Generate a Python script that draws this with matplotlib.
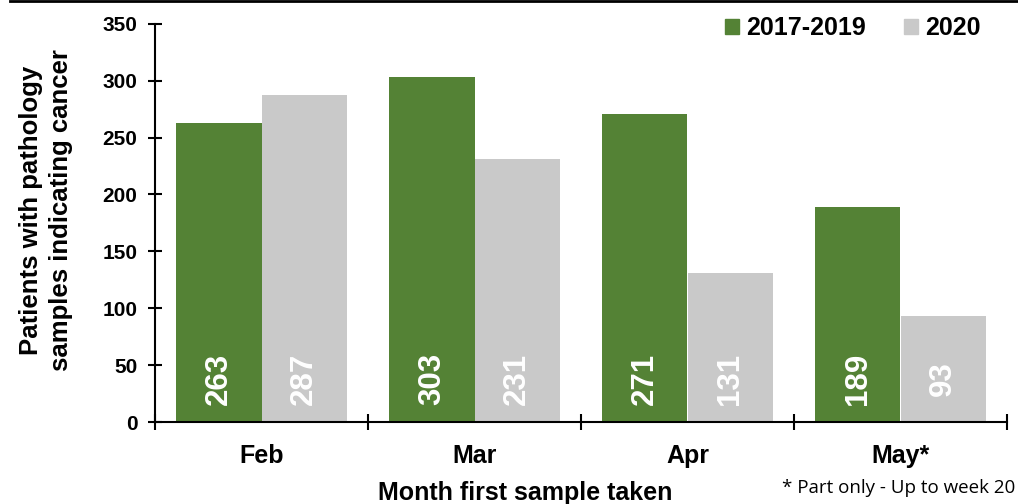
import matplotlib.pyplot as plt
from matplotlib.lines import Line2D
from matplotlib.patches import Patch

months = ['Feb', 'Mar', 'Apr', 'May*']
series_names = ['2017-2019', '2020']
values_1719 = [263, 303, 271, 189]
values_2020 = [287, 231, 131, 93]

green = '#548235'
grey = '#c9c9c9'

plt.rcParams['font.family'] = ['Liberation Sans', 'DejaVu Sans']

fig = plt.figure(figsize=(10.18, 5.04), dpi=100)
ax = fig.add_axes([155 / 1018, 1 - 422 / 504, (1007 - 155) / 1018, (422 - 23.7) / 504])

w = 0.4
xs = list(range(len(months)))
ax.bar([x - w / 2 for x in xs], values_1719, width=w, color=green, label=series_names[0])
ax.bar([x + w / 2 for x in xs], values_2020, width=w, color=grey, label=series_names[1])

for x, v in zip(xs, values_1719):
    ax.text(x - w / 2, 38, str(v), rotation=90, ha='center', va='center',
            color='white', fontsize=22.5, fontweight='bold')
for x, v in zip(xs, values_2020):
    ax.text(x + w / 2, 38, str(v), rotation=90, ha='center', va='center',
            color='white', fontsize=22.5, fontweight='bold')

ax.set_xlim(-0.5, len(months) - 0.5)
ax.set_ylim(0, 350)
ax.set_yticks(range(0, 351, 50))
ax.tick_params(axis='y', direction='inout', length=9.5, width=1.5, labelsize=15, pad=8)
for lab in ax.get_yticklabels():
    lab.set_fontweight('bold')

ax.set_xticks([x - 0.5 for x in range(len(months) + 1)])
ax.set_xticklabels([])
ax.tick_params(axis='x', which='major', direction='inout', length=11, width=1.5)
ax.set_xticks(xs, minor=True)
ax.set_xticklabels(months, minor=True, fontsize=18, fontweight='bold')
ax.tick_params(axis='x', which='minor', length=0, pad=16)

for s in ['top', 'right']:
    ax.spines[s].set_visible(False)
for s in ['left', 'bottom']:
    ax.spines[s].set_linewidth(1.5)

handles = [Patch(color=green), Patch(color=grey)]
leg = fig.legend(handles, series_names, loc='center right', bbox_to_anchor=(1003 / 1018, 1 - 28 / 504),
                 ncol=2, frameon=False, handlelength=0.55, handleheight=0.55, handletextpad=0.3,
                 columnspacing=1.5, prop={'size': 18, 'weight': 'bold'})

fig.text(46 / 1018, 1 - 210 / 504, 'Patients with pathology\nsamples indicating cancer',
         rotation=90, ha='center', va='center', fontsize=18.5, fontweight='bold', linespacing=1.3)
fig.text(525 / 1018, 1 - 493 / 504, 'Month first sample taken', ha='center', va='center',
         fontsize=18, fontweight='bold')
fig.text(1015 / 1018, 1 - 488 / 504, '* Part only - Up to week 20', ha='right', va='center',
         fontsize=13.5, family=['Open Sans', 'DejaVu Sans'])

fig.add_artist(Line2D([10 / 1018, 1], [1 - 1 / 504, 1 - 1 / 504], color='black', lw=2))

fig.savefig('out.png', dpi=100)
